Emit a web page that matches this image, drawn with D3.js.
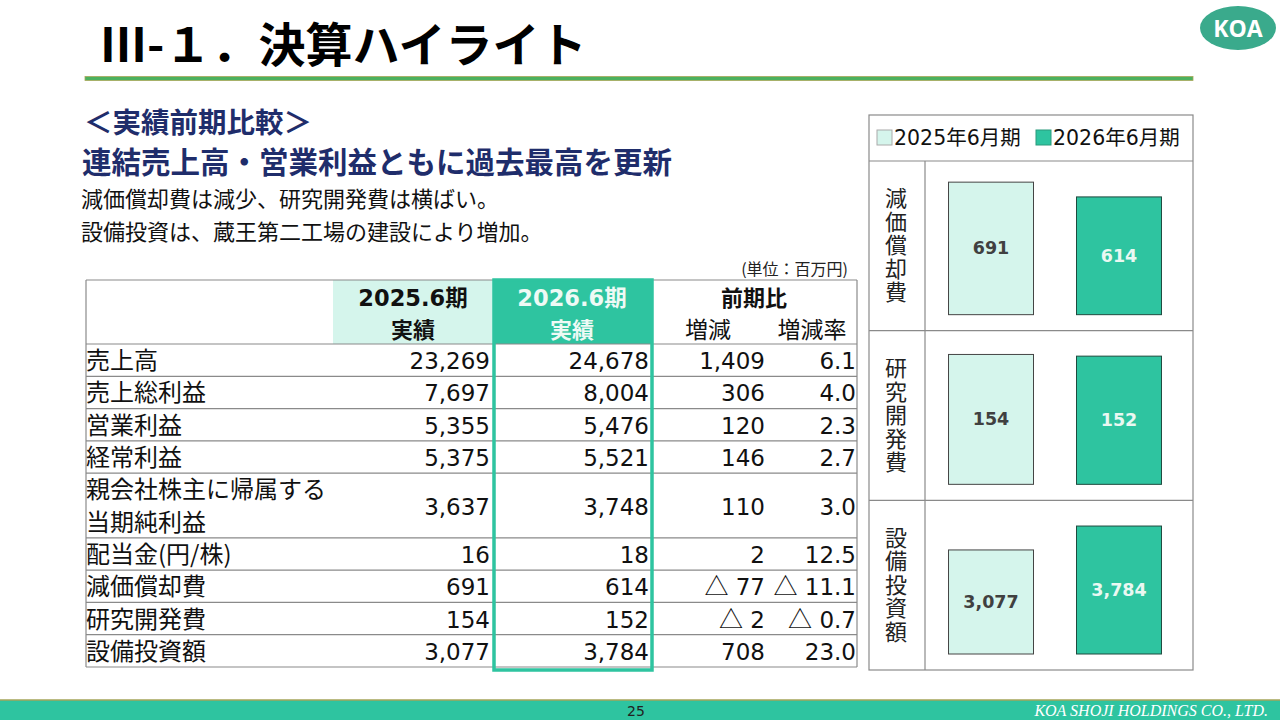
<!DOCTYPE html>
<html lang="ja">
<head>
<meta charset="utf-8">
<script src="https://cdn.jsdelivr.net/npm/d3@7"></script>
<style>
  body { margin: 0; background: #fff; }
  svg { display: block; font-family: "Noto Sans CJK JP", sans-serif; }
  .num { font-family: "DejaVu Sans", "Noto Sans CJK JP", sans-serif; }
  .cat-label { writing-mode: vertical-rl; text-orientation: upright; }
</style>
</head>
<body>
<svg id="slide" width="1280" height="720"></svg>
<script>
// table rows (百万円)
const rowLabels = ["売上高", "売上総利益", "営業利益", "経常利益", "親会社株主に帰属する\n当期純利益",
                   "配当金(円/株)", "減価償却費", "研究開発費", "設備投資額"];
const fy2025 = [23269, 7697, 5355, 5375, 3637, 16, 691, 154, 3077];
const fy2026 = [24678, 8004, 5476, 5521, 3748, 18, 614, 152, 3784];
const yoyDiff = [1409, 306, 120, 146, 110, 2, -77, -2, 708];
const yoyRate = [6.1, 4.0, 2.3, 2.7, 3.0, 12.5, -11.1, -0.7, 23.0];

// side chart
const periods = ["2025年6月期", "2026年6月期"];
const chartItems = ["減価償却費", "研究開発費", "設備投資額"];
const axisMax = [730, 166, 4140];

const mint = "#d5f5ec", teal = "#2ec4a0", navy = "#1f2d6b", grid = "#8a8a8a";

const svg = d3.select("#slide");

// ---- slide header ----
svg.append("text")
    .attr("x", 100).attr("y", 62)
    .attr("font-size", 47).attr("font-weight", 700)
    .attr("fill", "#000")
    .text("Ⅲ-１．決算ハイライト");

svg.append("rect")
    .attr("x", 85).attr("y", 76.5).attr("width", 1108).attr("height", 4)
    .attr("fill", "#4cb15e").attr("stroke", "#a9a75a").attr("stroke-width", 0.8);

svg.append("ellipse")
    .attr("cx", 1238).attr("cy", 28).attr("rx", 38).attr("ry", 22)
    .attr("fill", "#3aaa8c");
svg.append("text")
    .attr("x", 1238).attr("y", 36.5)
    .attr("text-anchor", "middle")
    .style("font-family", "'Open Sans', 'Noto Sans', sans-serif")
    .attr("font-size", 23).attr("font-weight", 700)
    .attr("fill", "#fff")
    .text("KOA");

svg.append("text")
    .attr("x", 84).attr("y", 133)
    .attr("font-size", 28.5).attr("font-weight", 700).attr("fill", navy)
    .text("＜実績前期比較＞");
svg.append("text")
    .attr("x", 82).attr("y", 172.5)
    .attr("font-size", 29.5).attr("font-weight", 700).attr("fill", navy)
    .text("連結売上高・営業利益ともに過去最高を更新");

const bodyLines = ["減価償却費は減少、研究開発費は横ばい。", "設備投資は、蔵王第二工場の建設により増加。"];
svg.selectAll(".body-line")
    .data(bodyLines)
    .enter()
    .append("text")
    .attr("class", "body-line")
    .attr("x", 81)
    .attr("y", (d, i) => 206.5 + i * 33.5)
    .attr("font-size", 22)
    .attr("fill", "#111")
    .text(d => d);

// ---- results table ----
const tbl = { left: 86, right: 857, top: 280, head: 344, bottom: 667 };
const colRight = { prev: 490, curr: 649, diff: 765, rate: 856 };

const rowUnits = rowLabels.map(d => d.split("\n").length);
const rowEnds = d3.cumsum(rowUnits);
const yRow = d3.scaleLinear()
    .domain([0, d3.sum(rowUnits)])
    .range([tbl.head, tbl.bottom]);

const rows = rowLabels.map((label, i) => ({
    label,
    lines: label.split("\n"),
    y0: yRow(rowEnds[i] - rowUnits[i]),
    y1: yRow(rowEnds[i]),
    prev: fy2025[i],
    curr: fy2026[i],
    diff: yoyDiff[i],
    rate: yoyRate[i]
}));

svg.append("text")
    .attr("x", 848).attr("y", 275)
    .attr("text-anchor", "end")
    .attr("font-size", 16).attr("fill", "#222")
    .text("(単位：百万円)");

// header backgrounds
svg.append("rect")
    .attr("x", 333).attr("y", tbl.top).attr("width", 160).attr("height", tbl.head - tbl.top)
    .attr("fill", mint);
svg.append("rect")
    .attr("x", 494).attr("y", tbl.top).attr("width", 158).attr("height", tbl.head - tbl.top)
    .attr("fill", teal);

// grid lines
const hLines = [tbl.top, tbl.head].concat(rows.map(r => r.y1));
svg.selectAll(".hline")
    .data(hLines)
    .enter()
    .append("line")
    .attr("class", "hline")
    .attr("x1", tbl.left).attr("x2", tbl.right)
    .attr("y1", d => d).attr("y2", d => d)
    .attr("stroke", grid).attr("stroke-width", 1.2);
svg.selectAll(".vline")
    .data([tbl.left, tbl.right])
    .enter()
    .append("line")
    .attr("class", "vline")
    .attr("x1", d => d).attr("x2", d => d)
    .attr("y1", tbl.top).attr("y2", tbl.bottom)
    .attr("stroke", grid).attr("stroke-width", 1.2);

// header text
const headCells = [
    { x: 413, y: 306, t: "2025.6期", cls: "num", w: 700, size: 22.5, fill: "#111" },
    { x: 413, y: 338, t: "実績", w: 700, size: 22, fill: "#111" },
    { x: 572, y: 306, t: "2026.6期", cls: "num", w: 700, size: 22.5, fill: "#eefaf5" },
    { x: 572, y: 338, t: "実績", w: 700, size: 22, fill: "#eefaf5" },
    { x: 754, y: 306, t: "前期比", w: 700, size: 22, fill: "#111" },
    { x: 708, y: 338, t: "増減", w: 400, size: 23, fill: "#111" },
    { x: 812, y: 338, t: "増減率", w: 400, size: 23, fill: "#111" }
];
svg.selectAll(".head")
    .data(headCells)
    .enter()
    .append("text")
    .attr("class", d => "head " + (d.cls || ""))
    .attr("x", d => d.x).attr("y", d => d.y)
    .attr("text-anchor", "middle")
    .attr("font-size", d => d.size)
    .attr("font-weight", d => d.w)
    .attr("fill", d => d.fill)
    .text(d => d.t);

// row labels
const labelText = svg.selectAll(".row-label")
    .data(rows)
    .enter()
    .append("text")
    .attr("class", "row-label")
    .attr("font-size", 24)
    .attr("fill", "#111");
labelText.selectAll("tspan")
    .data(r => r.lines.map((t, k) => ({ t, k, r })))
    .enter()
    .append("tspan")
    .attr("x", 86)
    .attr("y", d => (d.r.y0 + d.r.y1) / 2 + 9 + (d.k - (d.r.lines.length - 1) / 2) * 33)
    .text(d => d.t);

// numbers
const fmtInt = d3.format(",");
const cellFormat = {
    prev: v => fmtInt(v),
    curr: v => fmtInt(v),
    diff: v => fmtInt(Math.abs(v)),
    rate: v => d3.format(".1f")(Math.abs(v))
};
Object.keys(colRight).forEach(key => {
    const cell = svg.selectAll(".cell-" + key)
        .data(rows)
        .enter()
        .append("text")
        .attr("class", "num cell-" + key)
        .attr("x", colRight[key])
        .attr("y", r => (r.y0 + r.y1) / 2 + 9)
        .attr("text-anchor", "end")
        .attr("font-size", 23)
        .attr("fill", "#111");
    cell.filter(r => r[key] < 0)
        .append("tspan")
        .style("font-family", "'Noto Sans CJK JP', sans-serif")
        .attr("font-size", 24)
        .text("△");
    cell.append("tspan")
        .text(r => (r[key] < 0 ? " " : "") + cellFormat[key](r[key]));
});

// highlight frame of current period column
svg.append("rect")
    .attr("x", 494).attr("y", tbl.top).attr("width", 158).attr("height", 390)
    .attr("fill", "none")
    .attr("stroke", teal).attr("stroke-width", 3.5);

// ---- side bar chart ----
const panel = { left: 869, right: 1193, top: 115, legend: 161, bottom: 670, labelCol: 925 };

svg.append("rect")
    .attr("x", panel.left).attr("y", panel.top)
    .attr("width", panel.right - panel.left).attr("height", panel.bottom - panel.top)
    .attr("fill", "#fff").attr("stroke", grid).attr("stroke-width", 1.2);

const yBand = d3.scaleBand()
    .domain(chartItems)
    .range([panel.legend, panel.bottom]);

const xBar = d3.scaleBand()
    .domain(periods)
    .range([921, 1189])
    .paddingInner(0.336)
    .paddingOuter(0.215);

const color = d3.scaleOrdinal().domain(periods).range([mint, teal]);
const strokeColor = d3.scaleOrdinal().domain(periods).range(["#444", "#1f4a3e"]);
const labelColor = d3.scaleOrdinal().domain(periods).range(["#404040", "#eaf8f2"]);

// panel dividers
svg.selectAll(".pdiv")
    .data([panel.legend].concat(chartItems.slice(1).map(d => yBand(d))))
    .enter()
    .append("line")
    .attr("class", "pdiv")
    .attr("x1", panel.left).attr("x2", panel.right)
    .attr("y1", d => d).attr("y2", d => d)
    .attr("stroke", grid).attr("stroke-width", 1.2);
svg.append("line")
    .attr("x1", panel.labelCol).attr("x2", panel.labelCol)
    .attr("y1", panel.legend).attr("y2", panel.bottom)
    .attr("stroke", grid).attr("stroke-width", 1.2);

// legend
const legendX = [877, 1036];
const legend = svg.selectAll(".legend")
    .data(periods)
    .enter()
    .append("g")
    .attr("class", "legend")
    .attr("transform", (d, i) => `translate(${legendX[i]}, 130)`);
legend.append("rect")
    .attr("width", 15).attr("height", 15)
    .attr("fill", d => color(d))
    .attr("stroke", (d, i) => i ? "#2a9a7c" : "#aaa").attr("stroke-width", 1);
legend.append("text")
    .attr("class", "num")
    .attr("x", 17).attr("y", 15)
    .attr("font-size", 20.5).attr("fill", "#111")
    .text(d => d);

// vertical category labels
svg.selectAll(".cat-label")
    .data(chartItems)
    .enter()
    .append("text")
    .attr("class", "cat-label")
    .attr("x", 896)
    .attr("y", d => yBand(d) + yBand.bandwidth() / 2)
    .attr("text-anchor", "middle")
    .attr("font-size", 22)
    .attr("letter-spacing", 1.5)
    .attr("fill", "#222")
    .text(d => d);

// bars
const barData = chartItems.flatMap((item, i) => {
    const idx = rowLabels.indexOf(item);
    const base = yBand(item) + yBand.bandwidth() - 16;
    const yVal = d3.scaleLinear().domain([0, axisMax[i]]).range([base, base - 140]);
    return periods.map((p, j) => ({
        item, period: p,
        value: j ? fy2026[idx] : fy2025[idx],
        yVal
    }));
});

svg.selectAll(".bar")
    .data(barData)
    .enter()
    .append("rect")
    .attr("class", "bar")
    .attr("x", d => xBar(d.period))
    .attr("width", xBar.bandwidth())
    .attr("y", d => d.yVal(d.value))
    .attr("height", d => d.yVal(0) - d.yVal(d.value))
    .attr("fill", d => color(d.period))
    .attr("stroke", d => strokeColor(d.period))
    .attr("stroke-width", 1);

svg.selectAll(".bar-label")
    .data(barData)
    .enter()
    .append("text")
    .attr("class", "num bar-label")
    .attr("x", d => xBar(d.period) + xBar.bandwidth() / 2)
    .attr("y", d => (d.yVal(d.value) + d.yVal(0)) / 2 + 6)
    .attr("text-anchor", "middle")
    .attr("font-size", 17.5).attr("font-weight", 700)
    .attr("fill", d => labelColor(d.period))
    .text(d => fmtInt(d.value));

// ---- footer ----
svg.append("rect")
    .attr("x", 0).attr("y", 700).attr("width", 1280).attr("height", 20)
    .attr("fill", teal);
svg.append("line")
    .attr("x1", 0).attr("x2", 1280).attr("y1", 700).attr("y2", 700)
    .attr("stroke", "#a4a55a").attr("stroke-width", 1.5);
svg.append("text")
    .attr("x", 636).attr("y", 716)
    .attr("text-anchor", "middle")
    .style("font-family", "'DejaVu Sans', sans-serif")
    .attr("font-size", 14).attr("fill", "#222")
    .text("25");
svg.append("text")
    .attr("x", 1268).attr("y", 716)
    .attr("text-anchor", "end")
    .style("font-family", "'Liberation Serif', serif")
    .style("font-style", "italic")
    .attr("font-size", 16).attr("fill", "#fff")
    .text("KOA SHOJI HOLDINGS CO., LTD.");
</script>
</body>
</html>
